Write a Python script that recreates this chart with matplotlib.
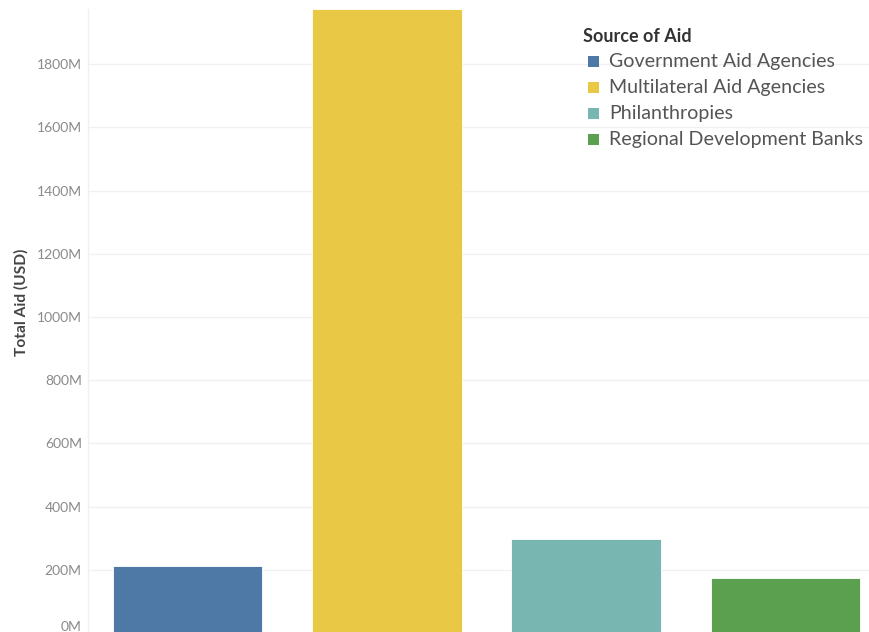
import matplotlib
matplotlib.use("Agg")
import matplotlib.pyplot as plt
from matplotlib.patches import Rectangle
from matplotlib.ticker import FuncFormatter

# Total aid by source (millions of USD)
sources = ["Government Aid Agencies", "Multilateral Aid Agencies",
           "Philanthropies", "Regional Development Banks"]
total_aid_m = [212, 1975, 296, 175]
colors = ["#4e79a7", "#e9c846", "#78b6b1", "#5aa04f"]
y_ticks_m = [0, 200, 400, 600, 800, 1000, 1200, 1400, 1600, 1800]

plt.rcParams["font.family"] = ["Lato", "DejaVu Sans"]

W, H = 869, 632
fig = plt.figure(figsize=(W / 100, H / 100), dpi=100)
ax = fig.add_axes([88 / W, -1 / H, (W - 88) / W, 624 / H])

x = list(range(len(sources)))
ax.bar(x, total_aid_m, width=0.75, color=colors, edgecolor="white",
       linewidth=0.6, zorder=3)

ax.set_xlim(-0.5, 3.42)
ax.set_ylim(0, 1975)
ax.set_yticks(y_ticks_m)
ax.yaxis.set_major_formatter(FuncFormatter(lambda v, p: f"{int(v)}M"))
ax.tick_params(axis="y", length=0, pad=4.5, labelsize=10, labelcolor="#8a8a8a")
ax.tick_params(axis="x", length=0, labelbottom=False)
# keep the zero label inside the canvas
ax.get_yticklabels()[0].set_va("bottom")
ax.grid(axis="y", color="#f0f0f0", linewidth=1, zorder=0)
for side in ("top", "right", "bottom"):
    ax.spines[side].set_visible(False)
ax.spines["left"].set_color("#f0f0f0")
ax.spines["left"].set_linewidth(1)

fig.text(21 / W, 1 - 302 / H, "Total Aid (USD)", fontsize=11.2,
         color="#444444", fontweight="bold", rotation=90,
         ha="center", va="center")

# Legend drawn as swatches and text in figure pixels
fig.text(583 / W, 1 - 37 / H, "Source of Aid", fontsize=13,
         fontweight="bold", color="#333333", va="center", ha="left")
row_y = [61, 87, 113, 139]
for name, col, yy in zip(sources, colors, row_y):
    fig.patches.append(Rectangle(((588) / W, 1 - (yy + 5.5) / H), 11 / W,
                                 11 / H, transform=fig.transFigure,
                                 facecolor=col, edgecolor="none"))
    fig.text(609 / W, 1 - yy / H, name, fontsize=14.1, color="#555555",
             va="center", ha="left")

fig.savefig("out.png", dpi=100)
